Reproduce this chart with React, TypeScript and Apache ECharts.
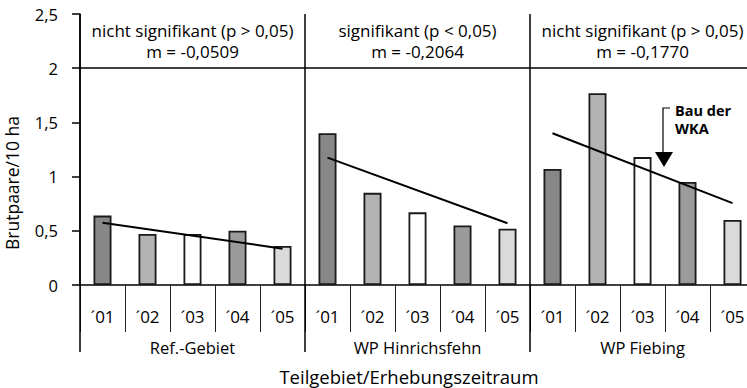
import React, { useEffect, useRef } from "react";
import * as echarts from "echarts";

const years = ["´01", "´02", "´03", "´04", "´05"];
const areas = ["Ref.-Gebiet", "WP Hinrichsfehn", "WP Fiebing"];
const refValues = [0.64, 0.47, 0.47, 0.5, 0.36];
const hinValues = [1.4, 0.85, 0.67, 0.55, 0.52];
const fieValues = [1.07, 1.77, 1.18, 0.95, 0.6];
const refTrend = [0.575, 0.335];
const hinTrend = [1.175, 0.57];
const fieTrend = [1.4, 0.755];
const headers = [
  ["nicht signifikant (p > 0,05)", "m = -0,0509"],
  ["signifikant (p < 0,05)", "m = -0,2064"],
  ["nicht signifikant (p > 0,05)", "m = -0,1770"],
];
const annotationLines = ["Bau der", "WKA"];
const yearColors = ["#878787", "#b3b3b3", "#ffffff", "#9b9b9b", "#dadada"];
const yTicks = [0, 0.5, 1, 1.5, 2, 2.5];

const FONT = "Open Sans";

export default function App() {
  const ref = useRef<HTMLDivElement>(null);
  useEffect(() => {
    if (!ref.current) return;
    const chart = echarts.init(ref.current, null, { renderer: "svg" });
    const allValues = [refValues, hinValues, fieValues];
    const trends = [refTrend, hinTrend, fieTrend];
    const cats: string[] = [];
    areas.forEach(() => years.forEach((y) => cats.push(y)));
    const barData: any[] = [];
    allValues.forEach((vals) =>
      vals.forEach((v, i) =>
        barData.push({ value: v, itemStyle: { color: yearColors[i] } })
      )
    );
    const trendSeries = trends.map((t, k) => {
      const d: (number | null)[] = cats.map(() => null);
      d[k * 5] = t[0];
      d[k * 5 + 4] = t[1];
      return {
        type: "line",
        xAxisIndex: 0,
        data: d,
        connectNulls: true,
        symbol: "none",
        lineStyle: { color: "#000", width: 2 },
        z: 5,
      };
    });
    const panelW = 225;
    const left = 80;
    const headerTexts: any[] = [];
    headers.forEach((h, k) => {
      const cx = left + panelW * k + panelW / 2;
      headerTexts.push({
        type: "text",
        x: cx,
        y: 30,
        style: { text: h[0], fill: "#000", font: `17px "${FONT}"`, align: "center", verticalAlign: "middle" },
      });
      headerTexts.push({
        type: "text",
        x: cx,
        y: 51,
        style: { text: h[1], fill: "#000", font: `17px "${FONT}"`, align: "center", verticalAlign: "middle" },
      });
    });
    const annTexts = annotationLines.map((t, i) => ({
      type: "text",
      x: 675,
      y: 110 + i * 18,
      style: { text: t, fill: "#000", font: `bold 14.5px "${FONT}"`, lineHeight: 17, align: "left", verticalAlign: "middle" },
    }));
    chart.setOption({
      animation: false,
      textStyle: { fontFamily: FONT },
      grid: { left: 80, right: 0, top: 14, bottom: 103, containLabel: false },
      xAxis: [
        {
          type: "category",
          data: cats,
          position: "bottom",
          axisLine: { lineStyle: { color: "#000", width: 1.5 } },
          axisTick: { show: true, length: 47, interval: 0, lineStyle: { color: "#222", width: 1 } },
          axisLabel: { interval: 0, margin: 23, color: "#000", fontSize: 17, fontFamily: FONT },
        },
        {
          type: "category",
          data: areas,
          position: "bottom",
          axisLine: { show: false },
          axisTick: { show: true, length: 67, interval: 0, lineStyle: { color: "#000", width: 1.5 } },
          axisLabel: { interval: 0, margin: 54, color: "#000", fontSize: 16.5, fontFamily: FONT },
          splitLine: { show: true, interval: 0, lineStyle: { color: "#000", width: 1.5 } },
        },
      ],
      yAxis: {
        type: "value",
        min: yTicks[0],
        max: yTicks[yTicks.length - 1],
        interval: 0.5,
        axisLine: { show: true, lineStyle: { color: "#000", width: 1.5 } },
        axisTick: { show: true, length: 8, lineStyle: { color: "#000", width: 1.5 } },
        splitLine: { show: false },
        axisLabel: {
          color: "#000",
          fontSize: 16.5,
          fontFamily: FONT,
          margin: 22,
          formatter: (v: number) => String(v).replace(".", ","),
        },
      },
      series: [
        {
          type: "bar",
          xAxisIndex: 0,
          data: barData,
          barWidth: 18,
          itemStyle: { borderColor: "#1a1a1a", borderWidth: 1.8 },
          markLine: {
            silent: true,
            symbol: "none",
            label: { show: false },
            lineStyle: { color: "#000", width: 1.5, type: "solid" },
            data: [{ yAxis: 2 }],
          },
        },
        ...trendSeries,
      ],
      graphic: [
        ...headerTexts,
        ...annTexts,
        {
          type: "text",
          x: 12,
          y: 183,
          rotation: Math.PI / 2,
          style: { text: "Brutpaare/10 ha", fill: "#000", font: `17.5px "${FONT}"`, align: "center", verticalAlign: "middle" },
        },
        {
          type: "text",
          x: 409,
          y: 376,
          style: { text: "Teilgebiet/Erhebungszeitraum", fill: "#000", font: `18.5px "${FONT}"`, lineHeight: 20, align: "center", verticalAlign: "middle" },
        },
        {
          type: "polyline",
          shape: { points: [[670, 108], [663, 108], [663, 153]] },
          style: { stroke: "#000", lineWidth: 1.2, fill: "none" },
        },
        {
          type: "polygon",
          shape: { points: [[655, 152], [673, 152], [664, 167]] },
          style: { fill: "#000" },
        },
      ],
    });
    return () => chart.dispose();
  }, []);
  return (
    <div style={{ position: "absolute", left: 0, top: 0, width: 747, height: 388, overflow: "hidden" }}>
      <div ref={ref} style={{ width: 755, height: 388 }} />
    </div>
  );
}
